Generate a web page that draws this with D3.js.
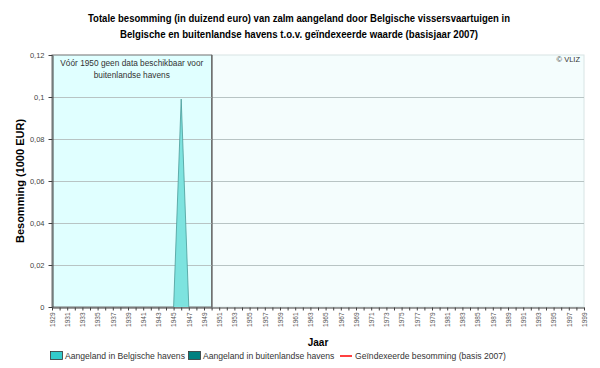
<!DOCTYPE html>
<html><head><meta charset="utf-8">
<script src="https://cdn.jsdelivr.net/npm/d3@7"></script>
<style>body{margin:0;background:#fff}svg{display:block}</style>
</head><body><svg id="c" width="600" height="368"></svg>
<script>
const years = d3.range(1929, 2000);
const belgischeHavens = years.map(y => y === 1946 ? 0.099 : 0);
const buitenlandseHavens = years.map(y => 0);
const yTicks = [0, 0.02, 0.04, 0.06, 0.08, 0.1, 0.12];
const titleLines = ["Totale besomming (in duizend euro) van zalm aangeland door Belgische vissersvaartuigen in",
  "Belgische en buitenlandse havens t.o.v. geïndexeerde waarde (basisjaar 2007)"];
const legendItems = [
  {label: "Aangeland in Belgische havens", type: "rect", color: "#33cccc"},
  {label: "Aangeland in buitenlandse havens", type: "rect", color: "#008080"},
  {label: "Geïndexeerde besomming (basis 2007)", type: "line", color: "#ff0000"}
];

const svg = d3.select("#c");
const L = 52, R = 584, T = 55, B = 307;
const x = d3.scaleLinear().domain([1929, 1999]).range([L, R]);
const y = d3.scaleLinear().domain([0, 0.12]).range([B, T]);
const fmt = d => d === 0 ? "0" : String(d).replace(".", ",");
const FF = "Liberation Sans, Arial, sans-serif";

// backgrounds
svg.append("rect").attr("x", x(1950)).attr("y", T).attr("width", R - x(1950)).attr("height", B - T)
  .attr("fill", "#f4fdfd").attr("stroke", "#d8e4e4").attr("stroke-width", 1);
svg.append("rect").attr("x", L).attr("y", T).attr("width", x(1950) - L).attr("height", B - T)
  .attr("fill", "#e0ffff").attr("stroke", "#707070").attr("stroke-width", 1);

// gridlines
svg.append("g").selectAll("line").data(yTicks.filter(d => d > 0 && d < 0.12)).join("line")
  .attr("x1", L).attr("x2", R).attr("y1", d => y(d) + 0.5).attr("y2", d => y(d) + 0.5)
  .attr("stroke", "#b8c4c4").attr("stroke-width", 1);

// 1950 line
svg.append("line").attr("x1", x(1950) + 0.5).attr("x2", x(1950) + 0.5).attr("y1", T).attr("y2", B)
  .attr("stroke", "#606060").attr("stroke-width", 1);

// areas
const area = d3.area().x((d, i) => x(years[i])).y0(B).y1(d => y(d));
svg.append("path").datum(belgischeHavens).attr("d", area).attr("fill", "#7de3df");
const nz = (arr, i) => arr[i] > 0 || (arr[i - 1] || 0) > 0 || (arr[i + 1] || 0) > 0;
const line = d3.line().x((d, i) => x(years[i])).y(d => y(d)).defined((d, i) => nz(belgischeHavens, i));
svg.append("path").datum(belgischeHavens).attr("d", line)
  .attr("fill", "none").attr("stroke", "#4a9a98").attr("stroke-width", 0.8);

// annotation
const ann = svg.append("text").attr("font-family", FF).attr("font-size", 8.3)
  .attr("fill", "#333").attr("text-anchor", "middle");
ann.append("tspan").attr("x", (L + x(1950)) / 2).attr("y", 66).text("Vóór 1950 geen data beschikbaar voor");
ann.append("tspan").attr("x", (L + x(1950)) / 2).attr("y", 78).text("buitenlandse havens");

svg.append("text").attr("x", 580).attr("y", 62).attr("text-anchor", "end")
  .attr("font-family", FF).attr("font-size", 7.5).attr("fill", "#333").text("© VLIZ");

// y axis
const ya = svg.append("g").attr("transform", `translate(${L + 0.5},0)`)
  .call(d3.axisLeft(y).tickValues(yTicks).tickFormat(fmt).tickSize(4).tickSizeOuter(0));
ya.select(".domain").attr("stroke", "#404040");
ya.selectAll(".tick line").attr("stroke", "#404040");
ya.selectAll("text").attr("font-family", FF).attr("font-size", 7.5).attr("fill", "#444").attr("dx", "-1");

// x axis
const xa = svg.append("g").attr("transform", `translate(0,${B + 0.5})`)
  .call(d3.axisBottom(x).tickValues(years).tickFormat(d => (d - 1929) % 2 === 0 ? d : "").tickSize(3).tickSizeOuter(0));
xa.select(".domain").attr("stroke", "#404040");
xa.selectAll(".tick line").attr("stroke", "#404040");
xa.selectAll("text").attr("font-family", FF).attr("font-size", 6.5).attr("fill", "#555")
  .attr("transform", "rotate(-90)").attr("text-anchor", "end").attr("x", -5).attr("y", 0).attr("dy", "0.35em");

// axis titles
svg.append("text").attr("transform", "translate(24,181) rotate(-90)").attr("text-anchor", "middle")
  .attr("font-family", FF).attr("font-weight", "bold").attr("font-size", 11)
  .text("Besomming (1000 EUR)");
svg.append("text").attr("x", 318).attr("y", 346).attr("text-anchor", "middle")
  .attr("font-family", FF).attr("font-weight", "bold").attr("font-size", 10)
  .text("Jaar");

// title
const titleW = [422, 358];
svg.append("g").selectAll("text").data(titleLines).join("text")
  .attr("x", (d, i) => 299 - titleW[i] / 2).attr("y", (d, i) => 22 + i * 16)
  .attr("textLength", (d, i) => titleW[i]).attr("lengthAdjust", "spacingAndGlyphs")
  .attr("font-family", FF).attr("font-weight", "bold").attr("font-size", 11)
  .text(d => d);

// legend
const lx = [50, 188, 340];
const lg = svg.append("g").selectAll("g").data(legendItems).join("g")
  .attr("transform", (d, i) => `translate(${lx[i]},356)`);
lg.filter(d => d.type === "rect").append("rect").attr("x", 0.5).attr("y", -4.5).attr("width", 12).attr("height", 8)
  .attr("fill", d => d.color).attr("stroke", "#333").attr("stroke-width", 0.8);
lg.filter(d => d.type === "line").append("line").attr("x1", 0).attr("x2", 12).attr("y1", 0).attr("y2", 0)
  .attr("stroke", d => d.color).attr("stroke-width", 1.5);
lg.append("text").attr("x", 15).attr("y", 0).attr("dy", "0.35em")
  .attr("font-family", FF).attr("font-size", 8.6).attr("fill", "#333").text(d => d.label);
</script></body></html>
